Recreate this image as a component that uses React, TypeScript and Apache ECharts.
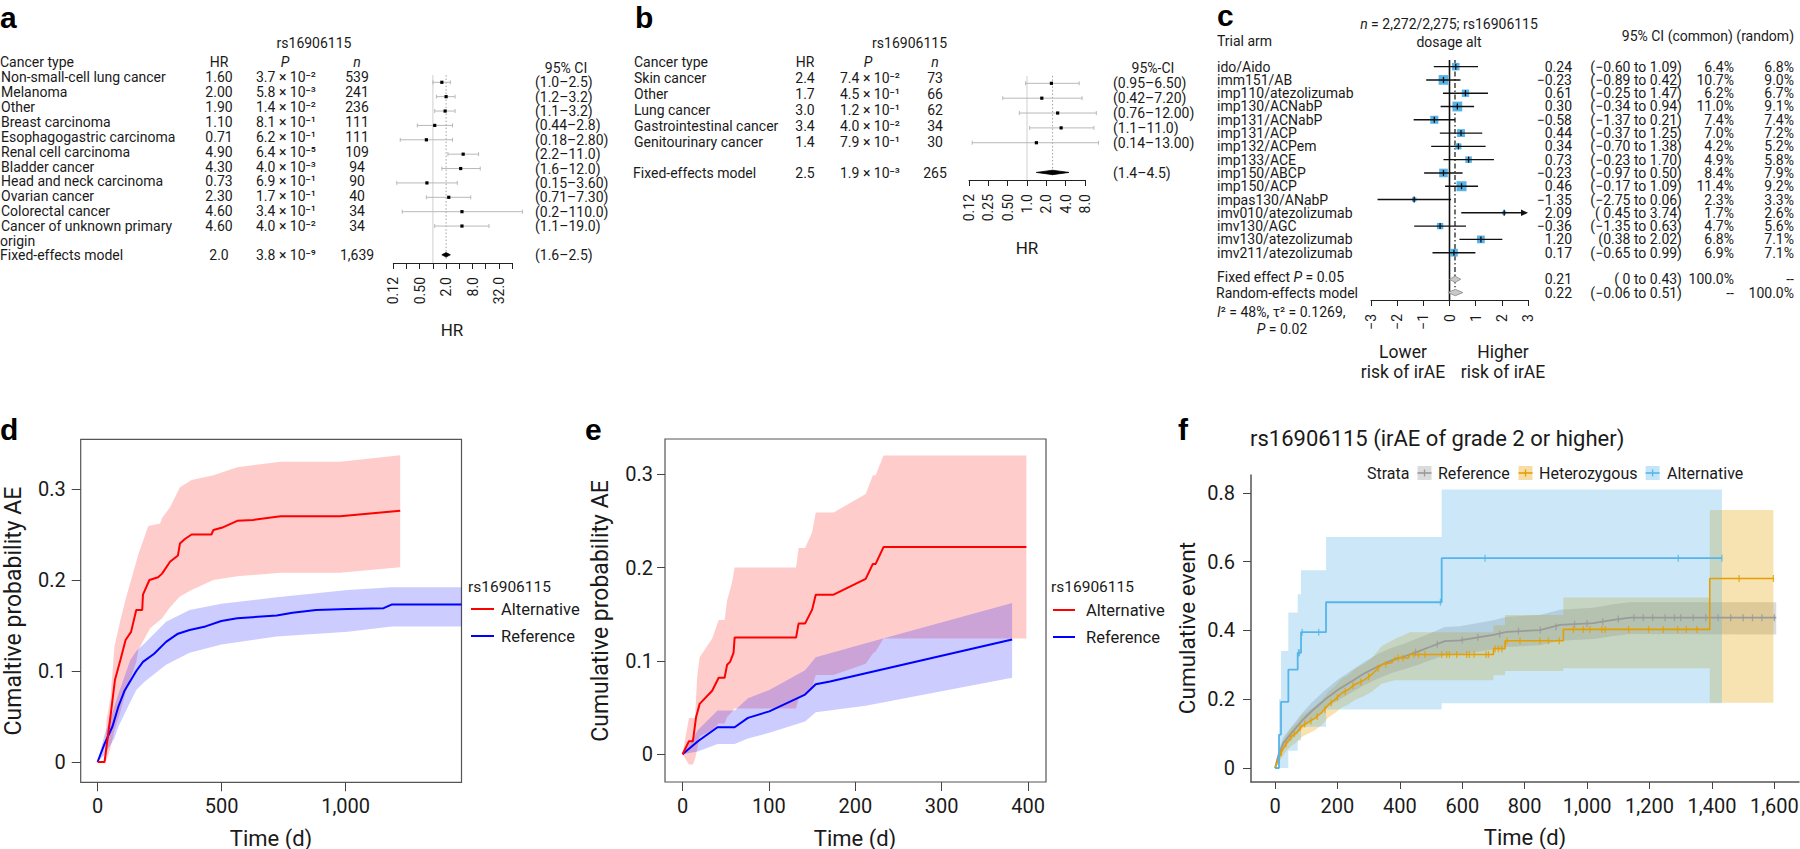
import React, { useEffect, useRef } from "react";
import * as echarts from "echarts";

const FF = "Roboto, 'Noto Sans', 'DejaVu Sans', sans-serif";
const LF = "'Liberation Sans', Arial, sans-serif";
const INK = "#1a1a1a";
const TFS = 14;

// ---------------- Panel a ----------------
const aTypes = ["Non-small-cell lung cancer", "Melanoma", "Other", "Breast carcinoma", "Esophagogastric carcinoma", "Renal cell carcinoma", "Bladder cancer", "Head and neck carcinoma", "Ovarian cancer", "Colorectal cancer", "Cancer of unknown primary"];
const aHRLabel = ["1.60", "2.00", "1.90", "1.10", "0.71", "4.90", "4.30", "0.73", "2.30", "4.60", "4.60"];
const aHR = [1.6, 2.0, 1.9, 1.1, 0.71, 4.9, 4.3, 0.73, 2.3, 4.6, 4.6];
const aP = ["3.7 × 10⁻²", "5.8 × 10⁻³", "1.4 × 10⁻²", "8.1 × 10⁻¹", "6.2 × 10⁻¹", "6.4 × 10⁻⁵", "4.0 × 10⁻³", "6.9 × 10⁻¹", "1.7 × 10⁻¹", "3.4 × 10⁻¹", "4.0 × 10⁻²"];
const aN = ["539", "241", "236", "111", "111", "109", "94", "90", "40", "34", "34"];
const aLo = [1.0, 1.2, 1.1, 0.44, 0.18, 2.2, 1.6, 0.15, 0.71, 0.2, 1.1];
const aHi = [2.5, 3.2, 3.2, 2.8, 2.8, 11, 12, 3.6, 7.3, 110, 19];
const aCI = ["(1.0–2.5)", "(1.2–3.2)", "(1.1–3.2)", "(0.44–2.8)", "(0.18–2.80)", "(2.2–11.0)", "(1.6–12.0)", "(0.15–3.60)", "(0.71–7.30)", "(0.2–110.0)", "(1.1–19.0)"];
const aFixedRow = ["Fixed-effects model", "2.0", "3.8 × 10⁻⁹", "1,639", "(1.6–2.5)"];
const aFixedVals = [2.0, 1.6, 2.5];
const aTicks: Record<number, string> = { [-3]: "0.12", [-1]: "0.50", 1: "2.0", 3: "8.0", 5: "32.0" };

// ---------------- Panel b ----------------
const bTypes = ["Skin cancer", "Other", "Lung cancer", "Gastrointestinal cancer", "Genitourinary cancer"];
const bHRLabel = ["2.4", "1.7", "3.0", "3.4", "1.4"];
const bHR = [2.4, 1.7, 3.0, 3.4, 1.4];
const bP = ["7.4 × 10⁻²", "4.5 × 10⁻¹", "1.2 × 10⁻¹", "4.0 × 10⁻²", "7.9 × 10⁻¹"];
const bN = ["73", "66", "62", "34", "30"];
const bLo = [0.95, 0.42, 0.76, 1.1, 0.14];
const bHi = [6.5, 7.2, 12, 11, 13];
const bCI = ["(0.95–6.50)", "(0.42–7.20)", "(0.76–12.00)", "(1.1–11.0)", "(0.14–13.00)"];
const bFixedRow = ["Fixed-effects model", "2.5", "1.9 × 10⁻³", "265", "(1.4–4.5)"];
const bFixedVals = [2.5, 1.4, 4.5];
const bTicks: Record<number, string> = { [-3]: "0.12", [-2]: "0.25", [-1]: "0.50", 0: "1.0", 1: "2.0", 2: "4.0", 3: "8.0" };

// ---------------- Panel c ----------------
const cArms = ["ido/Aido", "imm151/AB", "imp110/atezolizumab", "imp130/ACNabP", "imp131/ACNabP", "imp131/ACP", "imp132/ACPem", "imp133/ACE", "imp150/ABCP", "imp150/ACP", "impas130/ANabP", "imv010/atezolizumab", "imv130/AGC", "imv130/atezolizumab", "imv211/atezolizumab"];
const cEst = [0.24, -0.23, 0.61, 0.30, -0.58, 0.44, 0.34, 0.73, -0.23, 0.46, -1.35, 2.09, -0.36, 1.20, 0.17];
const cLo = [-0.60, -0.89, -0.25, -0.34, -1.37, -0.37, -0.70, -0.23, -0.97, -0.17, -2.75, 0.45, -1.35, 0.38, -0.65];
const cHi = [1.09, 0.42, 1.47, 0.94, 0.21, 1.25, 1.38, 1.70, 0.50, 1.09, 0.06, 3.74, 0.63, 2.02, 0.99];
const cWCommon = [6.4, 10.7, 6.2, 11.0, 7.4, 7.0, 4.2, 4.9, 8.4, 11.4, 2.3, 1.7, 4.7, 6.8, 6.9];
const cWRandom = [6.8, 9.0, 6.7, 9.1, 7.4, 7.2, 5.2, 5.8, 7.9, 9.2, 3.3, 2.6, 5.6, 7.1, 7.1];
const cEstText = ["0.24", "−0.23", "0.61", "0.30", "−0.58", "0.44", "0.34", "0.73", "−0.23", "0.46", "−1.35", "2.09", "−0.36", "1.20", "0.17"];
const cCIText = ["(−0.60 to 1.09)", "(−0.89 to 0.42)", "(−0.25 to 1.47)", "(−0.34 to 0.94)", "(−1.37 to 0.21)", "(−0.37 to 1.25)", "(−0.70 to 1.38)", "(−0.23 to 1.70)", "(−0.97 to 0.50)", "(−0.17 to 1.09)", "(−2.75 to 0.06)", "( 0.45 to 3.74)", "(−1.35 to 0.63)", "(0.38 to 2.02)", "(−0.65 to 0.99)"];
const cSummaryNames = ["Fixed effect", "Random-effects model"];
const cSummaryEst = [0.21, 0.22];
const cSummaryLo = [0, -0.06];
const cSummaryHi = [0.43, 0.51];
const cSummaryText = [["0.21", "( 0 to 0.43)", "100.0%", "--"], ["0.22", "(−0.06 to 0.51)", "--", "100.0%"]];

// ---------------- Panel d ----------------
const dAltLine = [[0, 0], [28, 0], [52, 0.05], [70, 0.09], [92, 0.112], [113, 0.134], [135, 0.143], [156, 0.167], [180, 0.167], [183, 0.184], [209, 0.2], [244, 0.203], [260, 0.207], [292, 0.22], [324, 0.227], [332, 0.24], [352, 0.245], [379, 0.25], [459, 0.25], [467, 0.255], [507, 0.258], [563, 0.265], [627, 0.266], [738, 0.27], [977, 0.27], [1220, 0.276]];
const dAltBand = [[0, 0, 0], [28, 0, 0], [36, 0.002, 0.046], [52, 0.015, 0.07], [68, 0.035, 0.127], [92, 0.055, 0.156], [116, 0.079, 0.182], [156, 0.11, 0.22], [164, 0.123, 0.228], [204, 0.143, 0.259], [212, 0.147, 0.26], [252, 0.156, 0.262], [260, 0.158, 0.268], [292, 0.17, 0.28], [332, 0.182, 0.302], [379, 0.189, 0.31], [467, 0.2, 0.315], [563, 0.204, 0.324], [738, 0.208, 0.33], [977, 0.208, 0.33], [1220, 0.214, 0.337]];
const dRefLine = [[0, 0], [28, 0.02], [60, 0.039], [84, 0.061], [108, 0.078], [132, 0.089], [156, 0.1], [183, 0.11], [228, 0.119], [276, 0.132], [324, 0.141], [371, 0.145], [435, 0.149], [499, 0.155], [563, 0.158], [722, 0.161], [786, 0.164], [881, 0.167], [1009, 0.168], [1153, 0.169], [1185, 0.173], [1467, 0.173]];
const dRefBand = [[0, 0, 0], [28, 0.008, 0.03], [68, 0.026, 0.061], [84, 0.039, 0.075], [132, 0.066, 0.112], [156, 0.079, 0.122], [188, 0.088, 0.13], [276, 0.107, 0.154], [371, 0.12, 0.167], [499, 0.129, 0.174], [722, 0.138, 0.181], [1009, 0.143, 0.189], [1185, 0.149, 0.192], [1467, 0.149, 0.192]];
const dXTicks = [0, 500, 1000];
const dYTicks = [0, 0.1, 0.2, 0.3];

// ---------------- Panel e ----------------
const eAltLine = [[0, 0], [7.4, 0.014], [12, 0.014], [15.7, 0.04], [19.8, 0.054], [34.3, 0.068], [41.8, 0.082], [48.7, 0.082], [51.6, 0.096], [55, 0.099], [59.1, 0.109], [60.3, 0.125], [131.4, 0.125], [134.3, 0.14], [141.8, 0.14], [150, 0.155], [154.2, 0.171], [174.8, 0.171], [212, 0.188], [220.3, 0.204], [223.5, 0.204], [232.6, 0.222], [398, 0.222]];
const eAltBand = [[0, 0, 0], [7.4, -0.011, 0.039], [12, -0.011, 0.039], [14.5, -0.005, 0.039], [16.9, 0.005, 0.083], [19.8, 0.019, 0.104], [34.3, 0.026, 0.124], [41.8, 0.033, 0.144], [48.7, 0.033, 0.144], [51.6, 0.04, 0.165], [57, 0.045, 0.183], [60.3, 0.049, 0.2], [131.4, 0.049, 0.2], [134.3, 0.06, 0.221], [141.8, 0.063, 0.221], [150, 0.072, 0.238], [154.2, 0.085, 0.259], [174.8, 0.085, 0.259], [212, 0.097, 0.279], [220.3, 0.108, 0.299], [223.5, 0.11, 0.299], [232.6, 0.124, 0.32], [398, 0.124, 0.32]];
const eRefLine = [[0, 0], [17.8, 0.014], [40.5, 0.029], [60.3, 0.029], [75.7, 0.039], [100.4, 0.046], [141.8, 0.064], [154.2, 0.075], [170.7, 0.078], [381.5, 0.123]];
const eRefBand = [[0, 0, 0], [17.8, 0.003, 0.026], [40.5, 0.011, 0.047], [60.3, 0.011, 0.047], [75.7, 0.017, 0.06], [100.4, 0.023, 0.069], [141.8, 0.035, 0.09], [154.2, 0.045, 0.104], [212, 0.052, 0.119], [381.5, 0.082, 0.162]];
const eXTicks = [0, 100, 200, 300, 400];
const eYTicks = [0, 0.1, 0.2, 0.3];

// ---------------- Panel f ----------------
const fRefLine = [[0, 0], [10, 0.034], [27, 0.073], [53, 0.102], [85, 0.136], [117, 0.165], [160, 0.199], [203, 0.228], [246, 0.252], [288, 0.276], [331, 0.296], [374, 0.313], [416, 0.325], [459, 0.339], [502, 0.354], [544, 0.369], [593, 0.371], [650, 0.38], [700, 0.387], [743, 0.396], [849, 0.401], [913, 0.416], [1020, 0.421], [1084, 0.431], [1138, 0.437], [1606, 0.437]];
const fRefBand = [[0, 0, 0], [10, 0.02, 0.05], [27, 0.055, 0.09], [53, 0.083, 0.12], [85, 0.113, 0.158], [117, 0.14, 0.19], [160, 0.172, 0.226], [203, 0.198, 0.258], [246, 0.22, 0.284], [288, 0.242, 0.31], [331, 0.26, 0.332], [374, 0.276, 0.35], [416, 0.288, 0.362], [459, 0.3, 0.378], [502, 0.315, 0.393], [544, 0.328, 0.41], [593, 0.33, 0.412], [650, 0.338, 0.422], [700, 0.345, 0.43], [743, 0.352, 0.44], [849, 0.357, 0.445], [913, 0.37, 0.46], [1020, 0.375, 0.466], [1084, 0.384, 0.476], [1138, 0.39, 0.482], [1606, 0.388, 0.482]];
const fHetLine = [[0, 0], [11, 0.024], [21, 0.048], [37, 0.073], [53, 0.092], [69, 0.102], [85, 0.121], [107, 0.133], [128, 0.145], [150, 0.162], [171, 0.184], [192, 0.199], [214, 0.218], [235, 0.228], [256, 0.243], [288, 0.257], [310, 0.272], [342, 0.301], [374, 0.306], [384, 0.32], [427, 0.32], [432, 0.33], [700, 0.33], [700, 0.347], [737, 0.347], [737, 0.37], [924, 0.37], [924, 0.403], [1393, 0.403], [1393, 0.551], [1597, 0.551]];
const fHetBand = [[0, 0, 0], [11, 0.01, 0.04], [21, 0.03, 0.066], [37, 0.05, 0.095], [53, 0.065, 0.118], [69, 0.074, 0.13], [85, 0.09, 0.152], [107, 0.1, 0.166], [128, 0.11, 0.18], [150, 0.125, 0.198], [171, 0.147, 0.222], [192, 0.16, 0.238], [214, 0.176, 0.26], [235, 0.185, 0.27], [256, 0.198, 0.288], [288, 0.21, 0.304], [310, 0.222, 0.32], [342, 0.245, 0.355], [384, 0.255, 0.375], [432, 0.255, 0.395], [700, 0.255, 0.395], [700, 0.27, 0.415], [737, 0.27, 0.415], [737, 0.282, 0.445], [924, 0.282, 0.445], [924, 0.29, 0.496], [1393, 0.29, 0.496], [1393, 0.19, 0.75], [1597, 0.19, 0.75]];
const fAltLine = [[0, 0], [12.8, 0], [12.8, 0.097], [19.2, 0.097], [19.2, 0.192], [42.7, 0.192], [42.7, 0.286], [72.6, 0.286], [72.6, 0.335], [83.3, 0.335], [83.3, 0.395], [163.4, 0.395], [163.4, 0.482], [534, 0.482], [534, 0.61], [1432, 0.61]];
const fAltBand = [[0, 0, 0], [12.8, 0, 0], [12.8, 0, 0.2], [19.2, 0, 0.2], [19.2, 0, 0.34], [42.7, 0, 0.34], [42.7, 0.05, 0.452], [72.6, 0.05, 0.452], [72.6, 0.08, 0.505], [83.3, 0.08, 0.505], [83.3, 0.12, 0.575], [163.4, 0.12, 0.575], [163.4, 0.17, 0.672], [534, 0.17, 0.672], [534, 0.188, 0.81], [1432, 0.188, 0.81]];
const fAltCensor = [[75, 0.335], [78, 0.335], [87, 0.395], [140, 0.395], [530, 0.482], [673, 0.61], [1292, 0.61], [1432, 0.61]];
const fHetCensor = [[20, 0.045], [35, 0.07], [50, 0.09], [62, 0.1], [80, 0.118], [95, 0.128], [115, 0.137], [135, 0.15], [160, 0.17], [180, 0.19], [200, 0.205], [225, 0.222], [250, 0.24], [275, 0.25], [300, 0.265], [330, 0.29], [355, 0.302], [395, 0.32], [410, 0.32], [445, 0.33], [460, 0.33], [480, 0.33], [534, 0.33], [550, 0.33], [559, 0.33], [582, 0.33], [614, 0.33], [623, 0.33], [638, 0.33], [676, 0.33], [684, 0.33], [705, 0.347], [716, 0.347], [727, 0.347], [743, 0.37], [785, 0.37], [849, 0.37], [876, 0.37], [911, 0.37], [956, 0.403], [988, 0.403], [1009, 0.403], [1047, 0.403], [1058, 0.403], [1133, 0.403], [1197, 0.403], [1244, 0.403], [1290, 0.403], [1318, 0.403], [1352, 0.403], [1487, 0.551], [1597, 0.551]];
const fRefCensor = [[450, 0.337], [520, 0.36], [600, 0.372], [650, 0.38], [720, 0.39], [780, 0.398], [850, 0.401], [900, 0.41], [960, 0.418], [1000, 0.42], [1050, 0.425], [1100, 0.433], [1150, 0.437], [1180, 0.437], [1210, 0.437], [1250, 0.437], [1280, 0.437], [1300, 0.437], [1340, 0.437], [1380, 0.437], [1420, 0.437], [1460, 0.437], [1500, 0.437], [1530, 0.437], [1560, 0.437], [1600, 0.437]];
const fXTicks = [0, 200, 400, 600, 800, 1000, 1200, 1400, 1600];
const fYTicks = [0, 0.2, 0.4, 0.6, 0.8];

// ---------------- helpers ----------------
function T(x: number, y: number, text: string, o: any = {}) {
  const fs = o.fs || TFS;
  const ff = o.ff || FF;
  const style: any = {
    text, fontSize: fs, fontFamily: ff, fontWeight: o.fw || "normal",
    fontStyle: o.it ? "italic" : "normal", fill: o.fill || INK,
    align: o.al || "left", verticalAlign: "middle",
  };
  if (o.rich) {
    style.rich = { i: { fontStyle: "italic", fontSize: fs, fontFamily: ff, fill: o.fill || INK, color: o.fill || INK } };
  }
  return { type: "text", x, y, rotation: o.rot || 0, silent: true, style };
}
const letter = (x: number, y: number, t: string) =>
  ({ type: "text", x, y, silent: true, style: { text: t, fontSize: 30, fontWeight: "bold", fontFamily: LF, fill: "#000", align: "left", verticalAlign: "middle" } });
const gLine = (x1: number, y1: number, x2: number, y2: number, stroke: string, lw = 2) =>
  ({ type: "line", silent: true, shape: { x1, y1, x2, y2 }, style: { stroke, lineWidth: lw } });

const fmtThousands = (v: number) => Math.round(v).toLocaleString("en-US");

function bandSeries(grid: number, pts: number[][], fill: string, z = 1) {
  return {
    type: "custom", xAxisIndex: grid, yAxisIndex: grid, silent: true, z,
    encode: { x: 0, y: 1 },
    data: [[pts[0][0], pts[0][1]]],
    renderItem: (_p: any, api: any) => {
      const up = pts.map((p) => api.coord([p[0], p[2]]));
      const lo = pts.map((p) => api.coord([p[0], p[1]])).reverse();
      return { type: "polygon", shape: { points: up.concat(lo) }, style: { fill } };
    },
  };
}
function lineSeries(grid: number, pts: number[][], color: string, width: number, z = 3) {
  return { type: "line", xAxisIndex: grid, yAxisIndex: grid, data: pts, symbol: "none", showSymbol: false, silent: true, z, lineStyle: { color, width } };
}
function censorSeries(grid: number, pts: number[][], color: string) {
  return { type: "scatter", xAxisIndex: grid, yAxisIndex: grid, data: pts, symbol: "rect", symbolSize: [1.3, 7], silent: true, z: 4, itemStyle: { color } };
}
function vline(grid: number, x: number, y0: number, y1: number, color: string, width: number, type: any = "solid") {
  return { type: "line", xAxisIndex: grid, yAxisIndex: grid, data: [[x, y0], [x, y1]], symbol: "none", silent: true, z: 2, lineStyle: { color, width, type } };
}
function forestSeries(grid: number, rows: number[][]) {
  return {
    type: "custom", xAxisIndex: grid, yAxisIndex: grid, silent: true, z: 3,
    encode: { x: 0, y: 1 },
    data: rows,
    renderItem: (_p: any, api: any) => {
      const e = api.coord([api.value(0), api.value(1)]);
      const l = api.coord([api.value(2), api.value(1)]);
      const h = api.coord([api.value(3), api.value(1)]);
      return {
        type: "group", children: [
          { type: "line", shape: { x1: l[0], y1: l[1], x2: h[0], y2: h[1] }, style: { stroke: "#b8b8b8", lineWidth: 1 } },
          { type: "line", shape: { x1: l[0], y1: l[1] - 2, x2: l[0], y2: l[1] + 2 }, style: { stroke: "#b8b8b8", lineWidth: 1 } },
          { type: "line", shape: { x1: h[0], y1: h[1] - 2, x2: h[0], y2: h[1] + 2 }, style: { stroke: "#b8b8b8", lineWidth: 1 } },
          { type: "rect", shape: { x: e[0] - 1.6, y: e[1] - 1.6, width: 3.2, height: 3.2 }, style: { fill: "#000" } },
        ],
      };
    },
  };
}
function diamondSeries(grid: number, rows: number[][], fill: string, stroke: string, halfH: number) {
  return {
    type: "custom", xAxisIndex: grid, yAxisIndex: grid, silent: true, z: 3,
    encode: { x: 0, y: 1 },
    data: rows,
    renderItem: (_p: any, api: any) => {
      const e = api.coord([api.value(0), api.value(1)]);
      const l = api.coord([api.value(2), api.value(1)]);
      const h = api.coord([api.value(3), api.value(1)]);
      return { type: "polygon", shape: { points: [[l[0], l[1]], [e[0], e[1] - halfH], [h[0], h[1]], [e[0], e[1] + halfH]] }, style: { fill, stroke, lineWidth: 0.8 } };
    },
  };
}

function forestX(grid: number, min: number, max: number, labels: (v: number) => string, fs = 14) {
  return {
    gridIndex: grid, type: "value", min, max, interval: 1,
    axisLine: { show: true, onZero: false, lineStyle: { color: "#222", width: 1 } },
    axisTick: { show: true, length: 6, lineStyle: { color: "#222", width: 1 } },
    axisLabel: { rotate: 90, margin: 14, fontSize: fs, fontFamily: FF, color: INK, formatter: labels, showMinLabel: true, showMaxLabel: true },
    splitLine: { show: false },
  };
}
function hiddenY(grid: number, min: number, max: number) {
  return { gridIndex: grid, type: "value", inverse: true, min, max, show: false, splitLine: { show: false } };
}
function kmX(grid: number, min: number, max: number, ticks: number[], margin: number, tickLen: number, showLine: boolean) {
  return {
    gridIndex: grid, type: "value", min, max,
    axisLine: { show: showLine, onZero: false, lineStyle: { color: "#555", width: 1.5 } },
    axisTick: { show: true, length: tickLen, customValues: ticks, lineStyle: { color: "#444", width: 1 } },
    axisLabel: { customValues: ticks, margin, fontSize: 20, fontFamily: FF, color: INK, formatter: (v: number) => fmtThousands(v) },
    splitLine: { show: false },
  };
}
function kmY(grid: number, min: number, max: number, ticks: number[], margin: number, tickLen: number, showLine: boolean) {
  return {
    gridIndex: grid, type: "value", min, max,
    axisLine: { show: showLine, onZero: false, lineStyle: { color: "#555", width: 1.5 } },
    axisTick: { show: true, length: tickLen, customValues: ticks, lineStyle: { color: "#444", width: 1 } },
    axisLabel: { customValues: ticks, margin, fontSize: 20, fontFamily: FF, color: INK, formatter: (v: number) => (v === 0 ? "0" : String(Math.round(v * 10) / 10)) },
    splitLine: { show: false },
  };
}

function buildOption() {
  const L2 = Math.log2;
  const g: any[] = [];

  // ---------- letters ----------
  g.push(letter(0, 17, "a"), letter(635, 17, "b"), letter(1217, 15, "c"), letter(0, 429, "d"), letter(585, 429, "e"), letter(1178, 429, "f"));

  // ---------- panel a table ----------
  g.push(T(314, 43, "rs16906115", { al: "center" }));
  g.push(T(0, 62, "Cancer type"), T(219, 62, "HR", { al: "center" }), T(285, 62, "P", { al: "center", it: true }), T(357, 62, "n", { al: "center", it: true }));
  aTypes.forEach((name, i) => {
    const y = 77.3 + 14.87 * i;
    g.push(T(1, y, name), T(219, y, aHRLabel[i], { al: "center" }), T(256, y, aP[i]), T(357, y, aN[i], { al: "center" }));
    g.push(T(535, 82.3 + 14.37 * i, aCI[i]));
  });
  g.push(T(0, 240.5, "origin"));
  g.push(T(0, 255.3, aFixedRow[0]), T(219, 255.3, aFixedRow[1], { al: "center" }), T(256, 255.3, aFixedRow[2]), T(357, 255.3, aFixedRow[3], { al: "center" }), T(535, 255.3, aFixedRow[4]));
  g.push(T(566, 68, "95% CI", { al: "center" }));
  g.push(T(452, 330, "HR", { al: "center", fs: 17 }));

  // ---------- panel b table ----------
  g.push(T(947, 43, "rs16906115", { al: "right" }));
  g.push(T(634, 62, "Cancer type"), T(805, 62, "HR", { al: "center" }), T(868, 62, "P", { al: "center", it: true }), T(935, 62, "n", { al: "center", it: true }));
  bTypes.forEach((name, i) => {
    const y = 78.3 + 16 * i;
    g.push(T(634, y, name), T(805, y, bHRLabel[i], { al: "center" }), T(840, y, bP[i]), T(935, y, bN[i], { al: "center" }));
    g.push(T(1113, 83.3 + 14.85 * i, bCI[i]));
  });
  g.push(T(633, 172.7, bFixedRow[0]), T(805, 172.7, bFixedRow[1], { al: "center" }), T(840, 172.7, bFixedRow[2]), T(935, 172.7, bFixedRow[3], { al: "center" }), T(1113, 172.7, bFixedRow[4]));
  g.push(T(1153, 68, "95%-CI", { al: "center" }));
  g.push(T(1027, 248, "HR", { al: "center", fs: 17 }));

  // ---------- panel c table ----------
  g.push(T(1449, 24, "{i|n} = 2,272/2,275; rs16906115", { al: "center", rich: true }));
  g.push(T(1449, 42, "dosage alt", { al: "center" }));
  g.push(T(1217, 40.5, "Trial arm"));
  g.push(T(1794, 36, "95% CI (common) (random)", { al: "right" }));
  cArms.forEach((name, i) => {
    const y = 66.5 + 13.3 * i;
    g.push(T(1217, y, name));
    g.push(T(1572, y, cEstText[i], { al: "right" }), T(1682, y, cCIText[i], { al: "right" }));
    g.push(T(1734, y, cWCommon[i].toFixed(1) + "%", { al: "right" }), T(1794, y, cWRandom[i].toFixed(1) + "%", { al: "right" }));
  });
  g.push(T(1217, 277, cSummaryNames[0] + " {i|P} = 0.05", { rich: true }));
  g.push(T(1216, 292.5, cSummaryNames[1]));
  g.push(T(1217, 312, "{i|I}² = 48%, τ² = 0.1269,", { rich: true }));
  g.push(T(1282, 329, "{i|P} = 0.02", { al: "center", rich: true }));
  [279.3, 292.8].forEach((y, k) => {
    const r = cSummaryText[k];
    g.push(T(1572, y, r[0], { al: "right" }), T(1682, y, r[1], { al: "right" }), T(1734, y, r[2], { al: "right" }), T(1794, y, r[3], { al: "right" }));
  });
  g.push(T(1403, 352, "Lower", { al: "center", fs: 17.5 }), T(1403, 372, "risk of irAE", { al: "center", fs: 17.5 }));
  g.push(T(1503, 352, "Higher", { al: "center", fs: 17.5 }), T(1503, 372, "risk of irAE", { al: "center", fs: 17.5 }));

  // ---------- panel d texts ----------
  g.push(T(271, 838, "Time (d)", { al: "center", fs: 22 }));
  g.push(T(13, 611, "Cumaltive probability AE", { al: "center", fs: 23, rot: Math.PI / 2 }));
  g.push(T(468, 587, "rs16906115", { fs: 15.5 }));
  g.push(gLine(471, 609, 494, 609, "#ff0000"), T(501, 609, "Alternative", { fs: 16.5 }));
  g.push(gLine(471, 636, 494, 636, "#0000ff"), T(501, 636, "Reference", { fs: 16.5 }));

  // ---------- panel e texts ----------
  g.push(T(855, 838, "Time (d)", { al: "center", fs: 22 }));
  g.push(T(600, 611, "Cumulative probability AE", { al: "center", fs: 23, rot: Math.PI / 2 }));
  g.push(T(1051, 587, "rs16906115", { fs: 15.5 }));
  g.push(gLine(1053, 610, 1075, 610, "#ff0000"), T(1086, 610, "Alternative", { fs: 16.5 }));
  g.push(gLine(1053, 637, 1075, 637, "#0000ff"), T(1086, 637, "Reference", { fs: 16.5 }));

  // ---------- panel f texts ----------
  g.push(T(1250, 438, "rs16906115 (irAE of grade 2 or higher)", { fs: 22 }));
  g.push(T(1525, 837, "Time (d)", { al: "center", fs: 22 }));
  g.push(T(1187, 628, "Cumulative event", { al: "center", fs: 22.5, rot: Math.PI / 2 }));
  g.push(T(1367, 473, "Strata", { fs: 16 }));
  const icons: [number, string, string, string, number][] = [
    [1424.5, "rgba(153,153,153,0.35)", "#999999", "Reference", 1438],
    [1525.5, "rgba(230,159,0,0.35)", "#E69F00", "Heterozygous", 1539],
    [1652.6, "rgba(86,180,233,0.35)", "#56B4E9", "Alternative", 1667],
  ];
  icons.forEach(([cx, bg, col, name, tx]) => {
    g.push({ type: "rect", silent: true, shape: { x: cx - 7, y: 466, width: 14, height: 14 }, style: { fill: bg } });
    g.push(gLine(cx - 7, 473, cx + 7, 473, col, 1.6), gLine(cx, 469.5, cx, 476.5, col, 1.3));
    g.push(T(tx, 473, name, { fs: 16 }));
  });

  // ---------- grids ----------
  const grid = [
    { left: 393.3, top: 75.1, width: 118.8, height: 187.9 },
    { left: 969, top: 75.9, width: 116, height: 104.1 },
    { left: 1371, top: 60, width: 157, height: 240 },
    { left: 80.7, top: 439.3, width: 380.8, height: 343 },
    { left: 665, top: 439, width: 381, height: 343 },
    { left: 1251, top: 475, width: 548, height: 307 },
  ].map((gr, i) => ({ ...gr, outerBoundsMode: "none", containLabel: false, show: i === 3 || i === 4, borderColor: "#555", borderWidth: 1.2, backgroundColor: "transparent" }));

  const xAxis = [
    forestX(0, -3, 6, (v: number) => aTicks[v] ?? ""),
    forestX(1, -3, 3, (v: number) => bTicks[v] ?? ""),
    forestX(2, -3, 3, (v: number) => (v < 0 ? "−" + Math.abs(v) : String(v)), 14),
    kmX(3, -68, 1467, dXTicks, 14, 9, false),
    kmX(4, -20.3, 420.7, eXTicks, 14, 9, false),
    kmX(5, -77, 1679, fXTicks, 14, 7, true),
  ];
  const yAxis = [
    hiddenY(0, -0.5, 12.57),
    hiddenY(1, -0.5, 6.51),
    hiddenY(2, -0.5, 17.56),
    kmY(3, -0.0223, 0.3546, dYTicks, 15, 9, false),
    kmY(4, -0.0297, 0.3378, eYTicks, 12, 8, false),
    kmY(5, -0.0407, 0.852, fYTicks, 16, 8, true),
  ];

  const aRows = aHR.map((h, i) => [L2(h), i, L2(aLo[i]), L2(aHi[i])]);
  const bRows = bHR.map((h, i) => [L2(h), i, L2(bLo[i]), L2(bHi[i])]);
  const cRows = cEst.map((e, i) => [e, i, cLo[i], cHi[i], cWCommon[i]]);

  const series: any[] = [
    // panel a
    vline(0, 0, -0.5, 12.57, "#cfcfcf", 1),
    vline(0, L2(aFixedVals[0]), -0.5, 12.3, "#8a8a8a", 0.8, [1.5, 2]),
    forestSeries(0, aRows),
    diamondSeries(0, [[L2(aFixedVals[0]), 12, L2(aFixedVals[1]), L2(aFixedVals[2])]], "#000", "#000", 2.2),
    // panel b
    vline(1, 0, -0.5, 6.51, "#cfcfcf", 1),
    vline(1, L2(bFixedVals[0]), -0.5, 6.3, "#8a8a8a", 0.8, [1.5, 2]),
    forestSeries(1, bRows),
    diamondSeries(1, [[L2(bFixedVals[0]), 6, L2(bFixedVals[1]), L2(bFixedVals[2])]], "#000", "#000", 2.2),
    // panel c
    vline(2, 0, -0.5, 17.56, "#111", 1.6),
    vline(2, cSummaryEst[0], -0.5, 16.6, "#222", 1.3, [5, 2.5, 1.5, 2.5]),
    {
      type: "custom", xAxisIndex: 2, yAxisIndex: 2, silent: true, z: 3, encode: { x: 0, y: 1 },
      data: cRows,
      renderItem: (_p: any, api: any) => {
        const est = api.value(0), row = api.value(1), lo = api.value(2), hi = api.value(3), w = api.value(4);
        const clipped = hi > 3;
        const pe = api.coord([est, row]);
        const pl = api.coord([lo, row]);
        const ph = api.coord([clipped ? 3 : hi, row]);
        const s = 10 * Math.sqrt(w / 11.4);
        const ch: any[] = [
          { type: "rect", shape: { x: pe[0] - s / 2, y: pe[1] - s / 2, width: s, height: s }, style: { fill: "#56B4E9" } },
          { type: "line", shape: { x1: pl[0], y1: pl[1], x2: ph[0] - (clipped ? 5 : 0), y2: ph[1] }, style: { stroke: "#111", lineWidth: 1.4 } },
          { type: "line", shape: { x1: pe[0], y1: pe[1] - 3, x2: pe[0], y2: pe[1] + 3 }, style: { stroke: "#111", lineWidth: 1.3 } },
        ];
        if (clipped) ch.push({ type: "polygon", shape: { points: [[ph[0], ph[1]], [ph[0] - 7, ph[1] - 3.2], [ph[0] - 7, ph[1] + 3.2]] }, style: { fill: "#111" } });
        return { type: "group", children: ch };
      },
    },
    diamondSeries(2, cSummaryEst.map((e, k) => [e, 16 + k, cSummaryLo[k], cSummaryHi[k]]), "#c8c8c8", "#8a8a8a", 3.2),
    // panel d
    bandSeries(3, dAltBand, "rgba(255,0,0,0.2)", 1),
    bandSeries(3, dRefBand, "rgba(0,0,255,0.2)", 1),
    lineSeries(3, dRefLine, "#0000ff", 2),
    lineSeries(3, dAltLine, "#ff0000", 2),
    // panel e
    bandSeries(4, eAltBand, "rgba(255,0,0,0.2)", 1),
    bandSeries(4, eRefBand, "rgba(0,0,255,0.2)", 1),
    lineSeries(4, eRefLine, "#0000ff", 2),
    lineSeries(4, eAltLine, "#ff0000", 2),
    // panel f
    bandSeries(5, fRefBand, "rgba(153,153,153,0.35)", 1),
    bandSeries(5, fHetBand, "rgba(230,159,0,0.3)", 1),
    bandSeries(5, fAltBand, "rgba(86,180,233,0.3)", 1),
    lineSeries(5, fRefLine, "#9a9a9a", 1.8),
    lineSeries(5, fHetLine, "#E69F00", 1.6),
    lineSeries(5, fAltLine, "#56B4E9", 1.8),
    censorSeries(5, fRefCensor, "#9a9a9a"),
    censorSeries(5, fHetCensor, "#E69F00"),
    censorSeries(5, fAltCensor, "#56B4E9"),
  ];

  return {
    animation: false,
    backgroundColor: "#ffffff",
    textStyle: { fontFamily: FF },
    grid, xAxis, yAxis, series,
    graphic: { elements: g },
  };
}

export default function App() {
  const ref = useRef<HTMLDivElement>(null);
  useEffect(() => {
    if (!ref.current) return;
    const chart = echarts.init(ref.current, null, { renderer: "svg" });
    chart.setOption(buildOption() as any);
    return () => chart.dispose();
  }, []);
  return <div ref={ref} style={{ position: "fixed", left: 0, top: 0, width: 1800, height: 849, background: "#fff" }} />;
}
